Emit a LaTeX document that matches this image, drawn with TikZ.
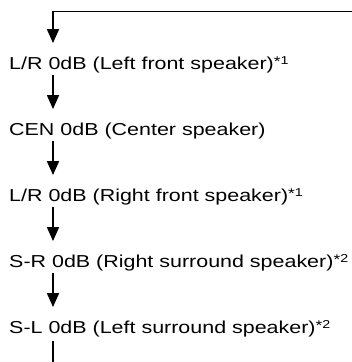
\documentclass[tikz,border=0pt]{standalone}
\usepackage{fontspec}
\setmainfont{Liberation Sans}
\usepackage{tikz}
\usetikzlibrary{arrows.meta,positioning}

\newcommand{\widetxt}[1]{\scalebox{1.24}[1]{#1}}
\newcommand{\fnmark}[1]{{\fontsize{14}{14}\selectfont\raisebox{2.6pt}{*}}\raisebox{4.4pt}{\fontsize{11.5}{11.5}\selectfont #1}}

\begin{document}
\begin{tikzpicture}[
    x=1pt, y=1pt,
    node distance=48.6pt,
    level/.style={inner sep=0pt, text height=13pt, text depth=4pt, font=\fontsize{17.3}{20}\selectfont},
    arrow/.style={-{Triangle[length=14pt,width=12pt]}, line width=1.6pt},
    link/.style={arrow, shorten <=2pt, shorten >=13pt},
    plain/.style={line width=1.6pt},
]
\useasboundingbox (0,0) rectangle (352,362);

% ---------- Speaker levels ----------
\node[level, anchor=base west] (lfront) at (9,292.7) {\widetxt{L/R 0dB (Left front speaker)\fnmark{1}}};
\node[level, below=of lfront.south west, anchor=north west] (center) {\widetxt{CEN 0dB (Center speaker)}};
\node[level, below=of center.south west, anchor=north west] (rfront) {\widetxt{L/R 0dB (Right front speaker)\fnmark{1}}};
\node[level, below=of rfront.south west, anchor=north west] (rsurr) {\widetxt{S-R 0dB (Right surround speaker)\fnmark{2}}};
\node[level, below=of rsurr.south west, anchor=north west] (lsurr) {\widetxt{S-L 0dB (Left surround speaker)\fnmark{2}}};

% ---------- Loop ends ----------
\coordinate (loopin) at (352,350.3);
\coordinate (bend) at (53,350.3);
\coordinate (loopout) at (53,0);

% ---------- Arrows ----------
\draw[arrow, shorten >=13pt] (loopin) -- (bend) -- (lfront.north -| bend);
\draw[link] (lfront.south -| bend) -- (center.north -| bend);
\draw[link] (center.south -| bend) -- (rfront.north -| bend);
\draw[link] (rfront.south -| bend) -- (rsurr.north -| bend);
\draw[link] (rsurr.south -| bend) -- (lsurr.north -| bend);
\draw[plain, shorten <=4pt] (lsurr.south -| bend) -- (loopout);

\end{tikzpicture}
\end{document}
